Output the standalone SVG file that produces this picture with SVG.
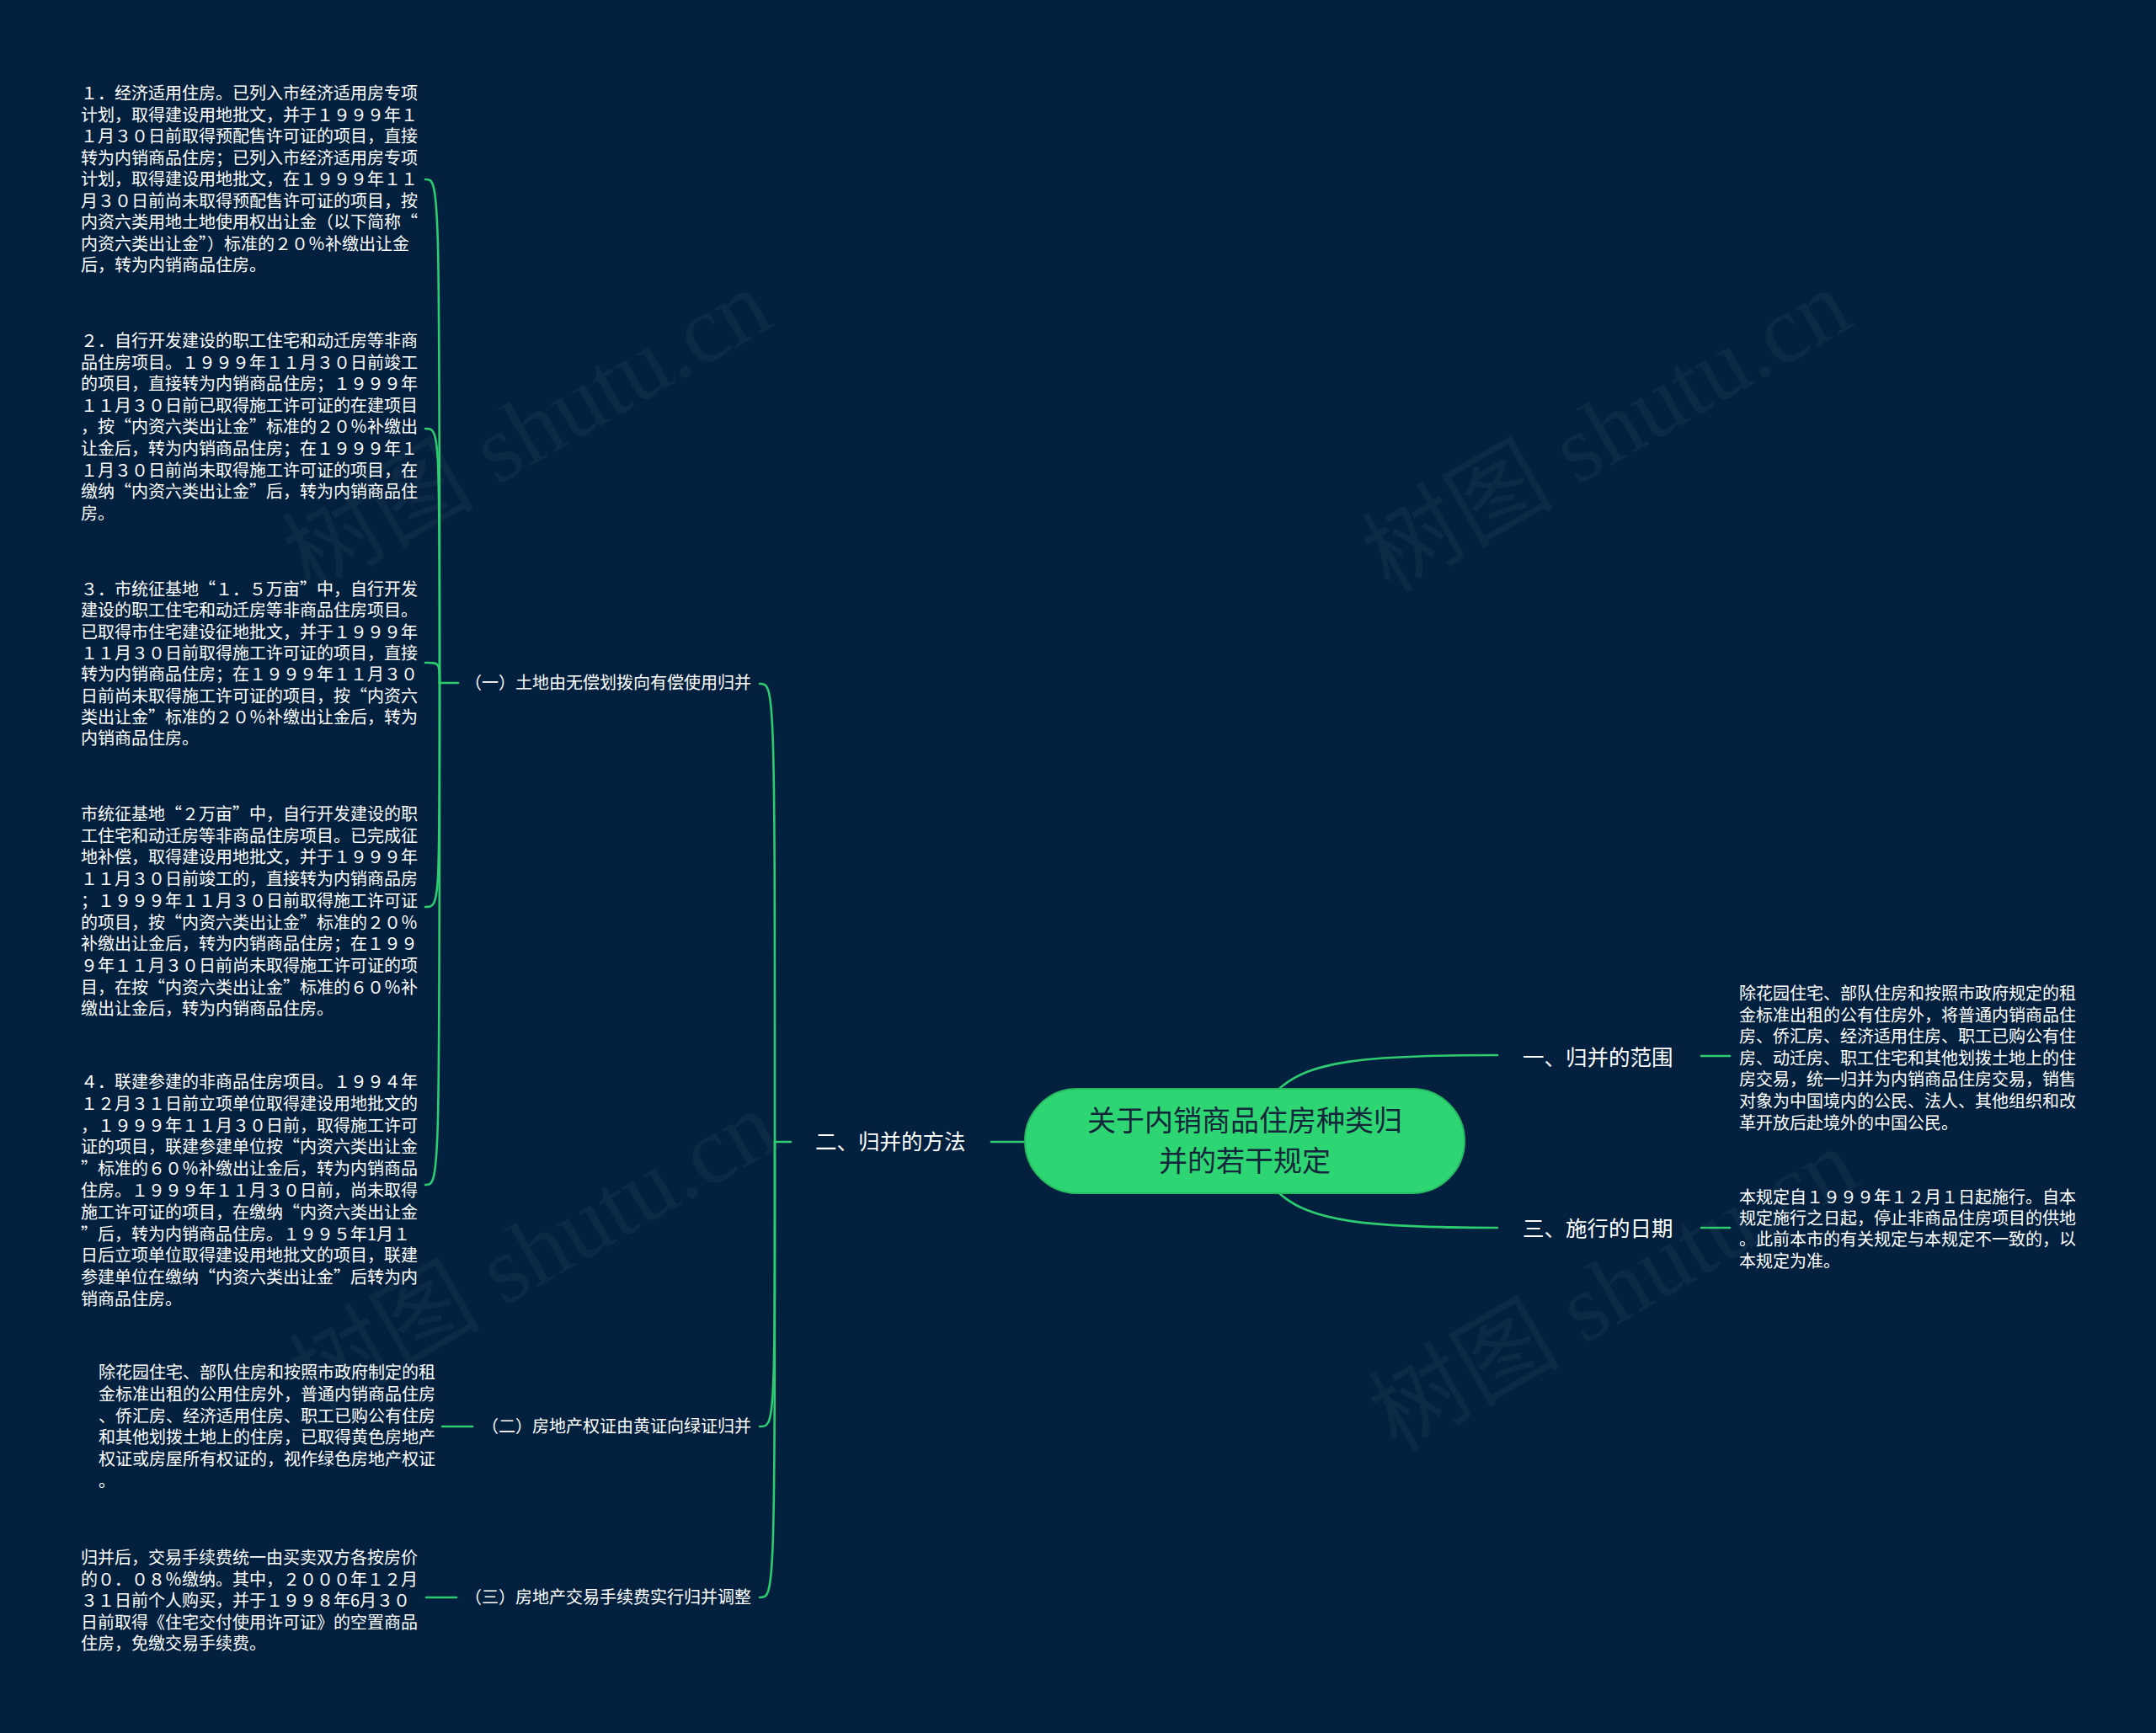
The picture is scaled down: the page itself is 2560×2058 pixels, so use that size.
<svg xmlns="http://www.w3.org/2000/svg" width="2560" height="2058" viewBox="0 0 2560 2058">
<style>
.bg{fill:#03213e}
.wm{font-family:"Liberation Serif","Noto Sans CJK SC",serif;font-size:114px;fill:#ffffff;fill-opacity:0.04}
.t{font-family:"Noto Sans CJK SC",sans-serif;font-size:20px;fill:#ffffff}
.b{font-family:"Noto Sans CJK SC",sans-serif;font-size:25.5px;fill:#ffffff}
.c{font-family:"Noto Sans CJK SC",sans-serif;font-size:34px;fill:#14263a}
.ln{fill:none;stroke:#2ecc71;stroke-width:2.6;stroke-linecap:round}
.node{fill:#2ed573;stroke:#27b862;stroke-width:2}
</style>
<rect class="bg" x="0" y="0" width="2560" height="2058"/>
<g id="watermarks">
<text class="wm" x="645" y="545" text-anchor="middle" transform="rotate(-30 645 545)">树图 shutu.cn</text>
<text class="wm" x="1927" y="545" text-anchor="middle" transform="rotate(-30 1927 545)">树图 shutu.cn</text>
<text class="wm" x="653" y="1520" text-anchor="middle" transform="rotate(-30 653 1520)">树图 shutu.cn</text>
<text class="wm" x="1935" y="1565" text-anchor="middle" transform="rotate(-30 1935 1565)">树图 shutu.cn</text>
</g>
<g id="connectors">
<path class="ln" d="M1217 1356 L1177 1356"/>
<path class="ln" d="M939 1356 L920 1356"/>
<path class="ln" d="M920 1356 C920 812 920 812 902 812"/>
<path class="ln" d="M920 1356 C920 1694 920 1694 902 1694"/>
<path class="ln" d="M920 1356 C920 1897 920 1897 902 1897"/>
<path class="ln" d="M544 811 L522 811"/>
<path class="ln" d="M522 811 C522 213 522 213 505 213"/>
<path class="ln" d="M522 811 C522 509 522 509 505 509"/>
<path class="ln" d="M522 811 C522 787 522 787 505 787"/>
<path class="ln" d="M522 811 C522 1077 522 1077 505 1077"/>
<path class="ln" d="M522 811 C522 1407 522 1407 505 1407"/>
<path class="ln" d="M561 1694 L525 1694"/>
<path class="ln" d="M542 1897 L506 1897"/>
<path class="ln" d="M1519 1293 C1555 1260 1620 1253 1778 1253"/>
<path class="ln" d="M1519 1417 C1555 1450 1620 1458 1778 1458"/>
<path class="ln" d="M2020 1254 L2054 1254"/>
<path class="ln" d="M2020 1458 L2054 1458"/>
</g>
<g id="root">
<rect class="node" x="1217" y="1293" width="522" height="124" rx="62" ry="62"/>
<text class="c" x="1478" y="1343" text-anchor="middle">关于内销商品住房种类归</text>
<text class="c" x="1478" y="1391" text-anchor="middle">并的若干规定</text>
</g>
<g id="branch-1">
<text class="b" x="1808" y="1265">一、归并的范围</text>
</g>
<g id="branch-1-text">
<text class="t" x="2065" y="1187"><tspan x="2065">除花园住宅、部队住房和按照市政府规定的租</tspan><tspan x="2065" dy="25.6">金标准出租的公有住房外，将普通内销商品住</tspan><tspan x="2065" dy="25.6">房、侨汇房、经济适用住房、职工已购公有住</tspan><tspan x="2065" dy="25.6">房、动迁房、职工住宅和其他划拨土地上的住</tspan><tspan x="2065" dy="25.6">房交易，统一归并为内销商品住房交易，销售</tspan><tspan x="2065" dy="25.6">对象为中国境内的公民、法人、其他组织和改</tspan><tspan x="2065" dy="25.6">革开放后赴境外的中国公民。</tspan></text>
</g>
<g id="branch-3">
<text class="b" x="1808" y="1468">三、施行的日期</text>
</g>
<g id="branch-3-text">
<text class="t" x="2065" y="1429"><tspan x="2065">本规定自１９９９年１２月１日起施行。自本</tspan><tspan x="2065" dy="25.2">规定施行之日起，停止非商品住房项目的供地</tspan><tspan x="2065" dy="25.2">。此前本市的有关规定与本规定不一致的，以</tspan><tspan x="2065" dy="25.2">本规定为准。</tspan></text>
</g>
<g id="branch-2">
<text class="b" x="968" y="1365">二、归并的方法</text>
</g>
<g id="sub-1">
<text class="t" x="892" y="818" text-anchor="end">（一）土地由无偿划拨向有偿使用归并</text>
</g>
<g id="sub-2">
<text class="t" x="892" y="1701" text-anchor="end">（二）房地产权证由黄证向绿证归并</text>
</g>
<g id="sub-3">
<text class="t" x="892" y="1904" text-anchor="end">（三）房地产交易手续费实行归并调整</text>
</g>
<g id="leaf-1-1">
<text class="t" x="96" y="118"><tspan x="96">１．经济适用住房。已列入市经济适用房专项</tspan><tspan x="96" dy="25.5">计划，取得建设用地批文，并于１９９９年１</tspan><tspan x="96" dy="25.5">１月３０日前取得预配售许可证的项目，直接</tspan><tspan x="96" dy="25.5">转为内销商品住房；已列入市经济适用房专项</tspan><tspan x="96" dy="25.5">计划，取得建设用地批文，在１９９９年１１</tspan><tspan x="96" dy="25.5">月３０日前尚未取得预配售许可证的项目，按</tspan><tspan x="96" dy="25.5">内资六类用地土地使用权出让金（以下简称“</tspan><tspan x="96" dy="25.5">内资六类出让金”）标准的２０％补缴出让金</tspan><tspan x="96" dy="25.5">后，转为内销商品住房。</tspan></text>
</g>
<g id="leaf-1-2">
<text class="t" x="96" y="412"><tspan x="96">２．自行开发建设的职工住宅和动迁房等非商</tspan><tspan x="96" dy="25.6">品住房项目。１９９９年１１月３０日前竣工</tspan><tspan x="96" dy="25.6">的项目，直接转为内销商品住房；１９９９年</tspan><tspan x="96" dy="25.6">１１月３０日前已取得施工许可证的在建项目</tspan><tspan x="96" dy="25.6">，按“内资六类出让金”标准的２０％补缴出</tspan><tspan x="96" dy="25.6">让金后，转为内销商品住房；在１９９９年１</tspan><tspan x="96" dy="25.6">１月３０日前尚未取得施工许可证的项目，在</tspan><tspan x="96" dy="25.6">缴纳“内资六类出让金”后，转为内销商品住</tspan><tspan x="96" dy="25.6">房。</tspan></text>
</g>
<g id="leaf-1-3">
<text class="t" x="96" y="707"><tspan x="96">３．市统征基地“１．５万亩”中，自行开发</tspan><tspan x="96" dy="25.3">建设的职工住宅和动迁房等非商品住房项目。</tspan><tspan x="96" dy="25.3">已取得市住宅建设征地批文，并于１９９９年</tspan><tspan x="96" dy="25.3">１１月３０日前取得施工许可证的项目，直接</tspan><tspan x="96" dy="25.3">转为内销商品住房；在１９９９年１１月３０</tspan><tspan x="96" dy="25.3">日前尚未取得施工许可证的项目，按“内资六</tspan><tspan x="96" dy="25.3">类出让金”标准的２０％补缴出让金后，转为</tspan><tspan x="96" dy="25.3">内销商品住房。</tspan></text>
</g>
<g id="leaf-1-4">
<text class="t" x="96" y="974"><tspan x="96">市统征基地“２万亩”中，自行开发建设的职</tspan><tspan x="96" dy="25.7">工住宅和动迁房等非商品住房项目。已完成征</tspan><tspan x="96" dy="25.7">地补偿，取得建设用地批文，并于１９９９年</tspan><tspan x="96" dy="25.7">１１月３０日前竣工的，直接转为内销商品房</tspan><tspan x="96" dy="25.7">；１９９９年１１月３０日前取得施工许可证</tspan><tspan x="96" dy="25.7">的项目，按“内资六类出让金”标准的２０％</tspan><tspan x="96" dy="25.7">补缴出让金后，转为内销商品住房；在１９９</tspan><tspan x="96" dy="25.7">９年１１月３０日前尚未取得施工许可证的项</tspan><tspan x="96" dy="25.7">目，在按“内资六类出让金”标准的６０％补</tspan><tspan x="96" dy="25.7">缴出让金后，转为内销商品住房。</tspan></text>
</g>
<g id="leaf-1-5">
<text class="t" x="96" y="1292"><tspan x="96">４．联建参建的非商品住房项目。１９９４年</tspan><tspan x="96" dy="25.8">１２月３１日前立项单位取得建设用地批文的</tspan><tspan x="96" dy="25.8">，１９９９年１１月３０日前，取得施工许可</tspan><tspan x="96" dy="25.8">证的项目，联建参建单位按“内资六类出让金</tspan><tspan x="96" dy="25.8">”标准的６０％补缴出让金后，转为内销商品</tspan><tspan x="96" dy="25.8">住房。１９９９年１１月３０日前，尚未取得</tspan><tspan x="96" dy="25.8">施工许可证的项目，在缴纳“内资六类出让金</tspan><tspan x="96" dy="25.8">”后，转为内销商品住房。１９９５年1月１</tspan><tspan x="96" dy="25.8">日后立项单位取得建设用地批文的项目，联建</tspan><tspan x="96" dy="25.8">参建单位在缴纳“内资六类出让金”后转为内</tspan><tspan x="96" dy="25.8">销商品住房。</tspan></text>
</g>
<g id="leaf-2-1">
<text class="t" x="117" y="1637"><tspan x="117">除花园住宅、部队住房和按照市政府制定的租</tspan><tspan x="117" dy="25.8">金标准出租的公用住房外，普通内销商品住房</tspan><tspan x="117" dy="25.8">、侨汇房、经济适用住房、职工已购公有住房</tspan><tspan x="117" dy="25.8">和其他划拨土地上的住房，已取得黄色房地产</tspan><tspan x="117" dy="25.8">权证或房屋所有权证的，视作绿色房地产权证</tspan><tspan x="117" dy="25.8">。</tspan></text>
</g>
<g id="leaf-3-1">
<text class="t" x="96" y="1857"><tspan x="96">归并后，交易手续费统一由买卖双方各按房价</tspan><tspan x="96" dy="25.6">的０．０８％缴纳。其中，２０００年１２月</tspan><tspan x="96" dy="25.6">３１日前个人购买，并于１９９８年6月３０</tspan><tspan x="96" dy="25.6">日前取得《住宅交付使用许可证》的空置商品</tspan><tspan x="96" dy="25.6">住房，免缴交易手续费。</tspan></text>
</g>
</svg>
